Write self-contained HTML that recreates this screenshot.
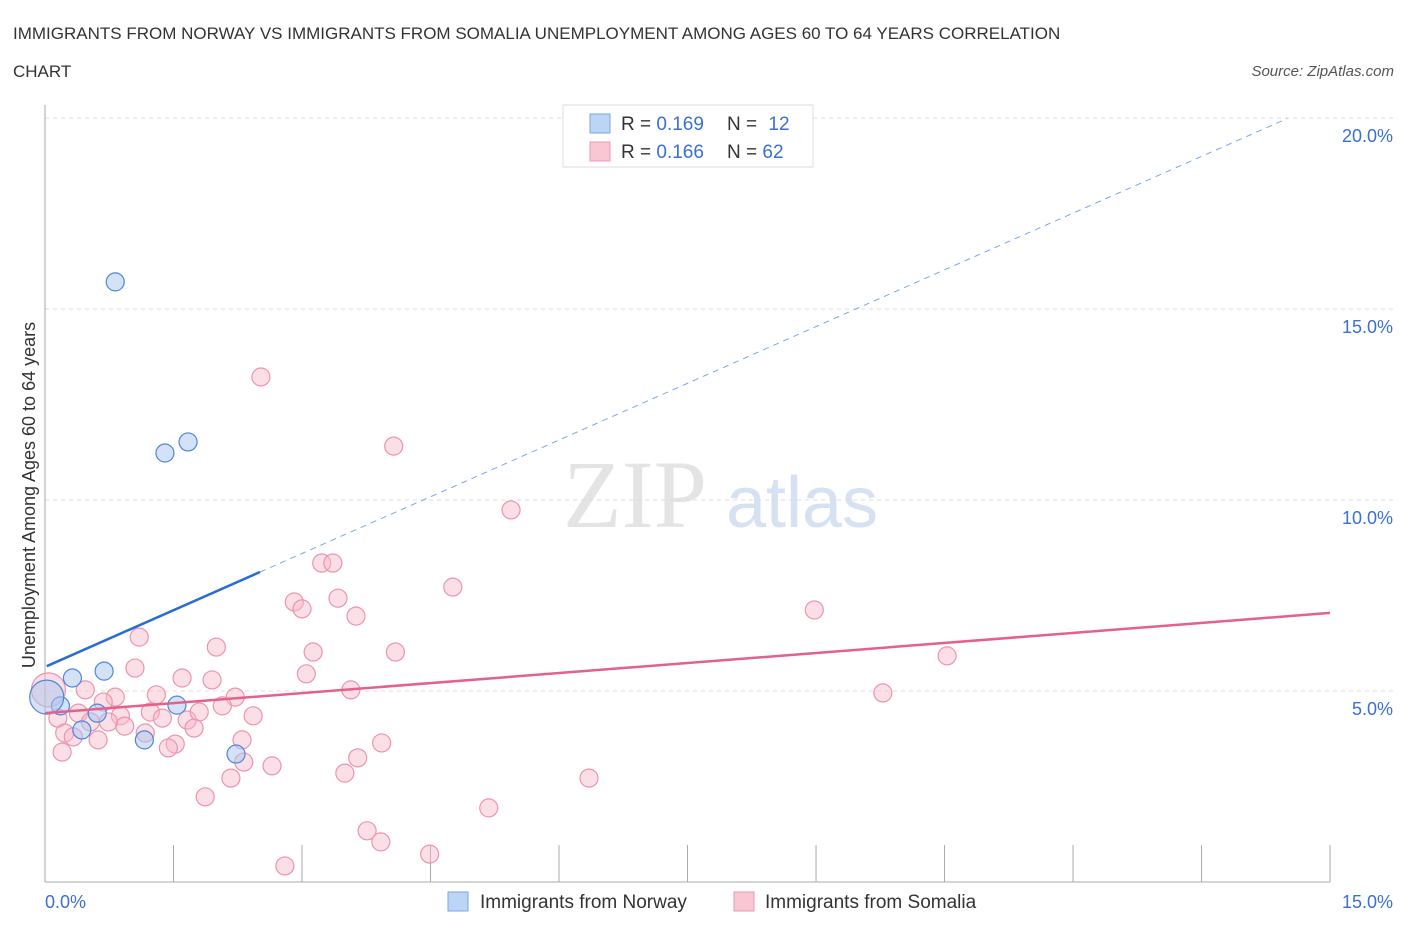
<!DOCTYPE html>
<html><head><meta charset="utf-8"><style>
body{margin:0;background:#fff;font-family:"Liberation Sans",sans-serif;}
</style></head><body>
<svg width="1406" height="930" xmlns="http://www.w3.org/2000/svg" font-family="Liberation Sans, sans-serif">
<text x="13" y="39" font-size="17" fill="#333">IMMIGRANTS FROM NORWAY VS IMMIGRANTS FROM SOMALIA UNEMPLOYMENT AMONG AGES 60 TO 64 YEARS CORRELATION</text>
<text x="13" y="77" font-size="17" fill="#333">CHART</text>
<text x="1394" y="76" font-size="15" fill="#555" font-style="italic" text-anchor="end">Source: ZipAtlas.com</text>
<g>
<text x="635" y="527" font-size="96" fill="#e4e4e4" font-family="Liberation Serif, serif" text-anchor="middle">ZIP</text>
<text x="802" y="527" font-size="72" fill="#d6e2f2" text-anchor="middle">atlas</text>
</g>
<g id="grid"></g>
<g id="axes"></g>
<g id="marks"></g>
<text x="35" y="495" font-size="18" fill="#333" text-anchor="middle" transform="rotate(-90 35 495)">Unemployment Among Ages 60 to 64 years</text>
<text x="45" y="908" font-size="18" fill="#3b6fd1">0.0%</text>
<text x="1393" y="908" font-size="18" fill="#3b6fd1" text-anchor="end">15.0%</text>
<g>
<rect x="563" y="105" width="250" height="62" fill="#fff" stroke="#ddd"/>
<rect x="590" y="114" width="20" height="19" fill="#bcd4f6" stroke="#7aa6e6"/>
<text x="621" y="130" font-size="19" fill="#333">R = <tspan fill="#3b6fd1">0.169</tspan></text>
<text x="727" y="130" font-size="19" fill="#333">N = <tspan fill="#3b6fd1" dx="6">12</tspan></text>
<rect x="590" y="142" width="20" height="19" fill="#f9c6d4" stroke="#eb98b0"/>
<text x="621" y="158" font-size="19" fill="#333">R = <tspan fill="#3b6fd1">0.166</tspan></text>
<text x="727" y="158" font-size="19" fill="#333">N = <tspan fill="#3b6fd1">62</tspan></text>
</g>
<g>
<rect x="448" y="892" width="20" height="19" fill="#bcd4f6" stroke="#7aa6e6"/>
<text x="480" y="908" font-size="19" fill="#333">Immigrants from Norway</text>
<rect x="734" y="892" width="20" height="19" fill="#f9c6d4" stroke="#eb98b0"/>
<text x="765" y="908" font-size="19" fill="#333">Immigrants from Somalia</text>
</g>
</svg>
<script>
const yTicks=[5,10,15,20];
const yTickLabels=["5.0%","10.0%","15.0%","20.0%"];
const xTicks=[0,1.5,3,4.5,6,7.5,9,10.5,12,13.5,15];
const norwayX=[0.82,1.40,1.67,0.32,0.69,0.18,0.61,0.43,1.16,1.54,2.23,0.02];
const norwayY=[15.71,11.23,11.52,5.34,5.52,4.61,4.42,3.98,3.72,4.63,3.35,4.84];
const somaliaX=[2.52,4.07,5.44,4.76,3.23,3.36,2.91,3.00,3.42,3.63,8.98,10.53,9.78,1.10,2.00,3.13,4.09,1.05,1.60,1.95,3.05,3.57,0.47,0.82,1.30,2.22,0.68,2.07,0.39,0.88,1.23,1.66,1.80,2.43,1.37,0.15,0.53,0.93,0.74,1.74,0.23,0.33,1.17,1.52,2.30,0.62,1.44,0.20,3.93,3.65,2.32,2.65,3.50,2.17,6.35,1.87,5.18,3.76,3.92,4.49,2.80,0.04];
const somaliaY=[13.22,11.41,9.74,7.72,8.35,8.35,7.33,7.15,7.43,6.96,7.12,5.92,4.95,6.41,6.15,6.02,6.02,5.60,5.34,5.29,5.45,5.03,5.03,4.84,4.90,4.84,4.71,4.61,4.42,4.35,4.45,4.24,4.45,4.35,4.29,4.29,4.19,4.08,4.19,4.03,3.90,3.80,3.90,3.61,3.72,3.72,3.51,3.40,3.64,3.25,3.14,3.04,2.85,2.72,2.72,2.23,1.94,1.34,1.05,0.73,0.42,5.03];
const norwayTrend=[5.63,0.99];
const somaliaTrend=[4.42,0.175];
const NS="http://www.w3.org/2000/svg";
const X=v=>45+v*85.67, Y=v=>882-v*38.2;
function mk(t,a,p){const e=document.createElementNS(NS,t);for(const k in a)e.setAttribute(k,a[k]);p.appendChild(e);return e;}
const grid=document.getElementById('grid'),axes=document.getElementById('axes'),marks=document.getElementById('marks');
yTicks.forEach((v,i)=>{
 const l=mk('line',{x1:45,x2:1395,y1:Y(v),y2:Y(v),stroke:'#ddd','stroke-dasharray':'4,4'},grid);
 
 
 const t=mk('text',{x:1393,y:Y(v)+24,'font-size':18,fill:'#3b6fd1','text-anchor':'end'},grid);
 t.textContent=yTickLabels[i];
 
 
});
const ax=mk('line',{x1:45,x2:45,y1:105,y2:882,stroke:'#aaa'},axes);


const bx=mk('line',{x1:45,x2:1330,y1:882,y2:882,stroke:'#aaa'},axes);


xTicks.forEach(v=>{
 const t=mk('line',{x1:X(v),x2:X(v),y1:845,y2:882,stroke:'#aaa'},axes);
 
 
});
somaliaX.forEach((x,i)=>{
 const big=i===somaliaX.length-1;
 const c=mk('circle',{cx:X(x),cy:Y(somaliaY[i]),r:big?17:9,fill:'#f7b8c9','fill-opacity':0.45,stroke:'#ec94ad','stroke-width':1.2},marks);
 
 
});
norwayX.forEach((x,i)=>{
 const big=i===norwayX.length-1;
 const c=mk('circle',{cx:X(x),cy:Y(norwayY[i]),r:big?17:9,fill:'#a9c6f0','fill-opacity':0.5,stroke:'#4f86d8','stroke-width':1.2},marks);
 
 
});
const nl=mk('line',{x1:X(0.02),y1:Y(norwayTrend[0]+norwayTrend[1]*0.02),x2:X(2.51),y2:Y(norwayTrend[0]+norwayTrend[1]*2.51),stroke:'#2a6bd6','stroke-width':2.5},marks);


const nd=mk('line',{x1:X(2.51),y1:Y(norwayTrend[0]+norwayTrend[1]*2.51),x2:X(14.5),y2:Y(norwayTrend[0]+norwayTrend[1]*14.5),stroke:'#7aa6e6','stroke-width':1,'stroke-dasharray':'6,5'},marks);


const sl=mk('line',{x1:X(0),y1:Y(somaliaTrend[0]),x2:X(15),y2:Y(somaliaTrend[0]+somaliaTrend[1]*15),stroke:'#e4618a','stroke-width':2.5},marks);


</script>
</body></html>
